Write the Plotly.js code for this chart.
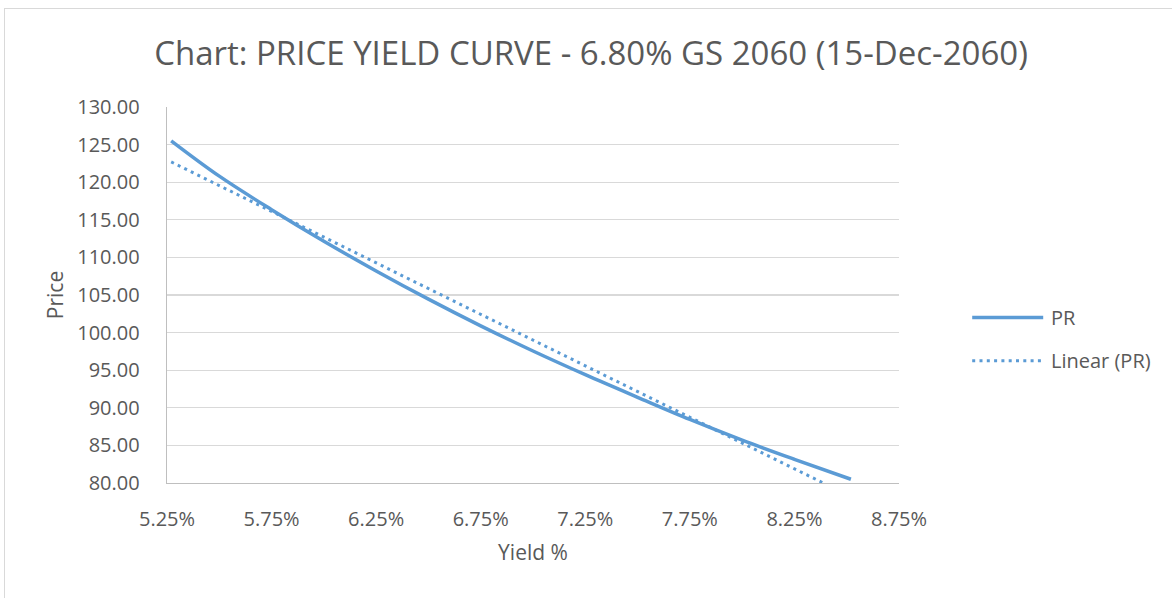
<!DOCTYPE html>
<html>
<head>
<meta charset="utf-8">
<script src="https://cdn.plot.ly/plotly-3.0.1.min.js"></script>
<style>
  body { margin: 0; background: #fff; }
  #marco { position: absolute; left: 4px; top: 8px; width: 1180px; height: 600px;
           border-left: 1px solid #d9d9d9; border-top: 1px solid #d9d9d9; }
  #grafico { position: absolute; left: 0; top: 0; width: 1172px; height: 598px; }
</style>
</head>
<body>
<div id="marco"></div>
<div id="grafico"></div>
<script>
// yield (%) and price
let rendimientos = [5.27, 5.50, 5.75, 6.00, 6.25, 6.50, 6.75, 7.00, 7.25, 7.50, 7.75, 8.00, 8.25, 8.52];
let precios = [125.5, 120.8, 116.35, 112.15, 108.2, 104.45, 100.9, 97.55, 94.4, 91.4, 88.45, 85.7, 83.15, 80.5];
let nombreSerie = 'PR';
let nombreTendencia = 'Linear (PR)';

let azul = '#5b9bd5';
let gris = '#595959';
let fuente = 'Open Sans, sans-serif';

// linear trendline (least squares), like Excel's "Linear (PR)"
let n = rendimientos.length;
let sx = 0, sy = 0, sxx = 0, sxy = 0;
for (let i = 0; i < n; i++)
{
    sx += rendimientos[i];
    sy += precios[i];
    sxx += rendimientos[i] * rendimientos[i];
    sxy += rendimientos[i] * precios[i];
}
let pendiente = (n * sxy - sx * sy) / (n * sxx - sx * sx);
let corte = (sy - pendiente * sx) / n;
let tendX = [rendimientos[0], rendimientos[n - 1]];
let tendY = tendX.map(v => corte + pendiente * v);

let graf1 =
{
    x: rendimientos,
    y: precios,
    type: 'scatter',
    mode: 'lines',
    name: nombreSerie,
    line: { color: azul, width: 3.5, shape: 'spline' }
}
let graf2 =
{
    x: tendX,
    y: tendY,
    type: 'scatter',
    mode: 'lines',
    name: nombreTendencia,
    line: { color: azul, width: 3, dash: '3px,4.3px' }
}

let layout1 =
{
    width: 1172,
    height: 598,
    paper_bgcolor: 'rgba(0,0,0,0)',
    plot_bgcolor: 'rgba(0,0,0,0)',
    margin: { l: 167, r: 273, t: 107, b: 115 },
    font: { family: fuente, color: gris, size: 20 },
    title: {
        text: 'Chart: PRICE YIELD CURVE - 6.80% GS 2060 (15-Dec-2060)',
        font: { family: fuente, size: 33, color: gris },
        xref: 'container', yref: 'container',
        x: 0.5043, y: 0.911, xanchor: 'center', yanchor: 'middle'
    },
    xaxis: {
        range: [5.25, 8.75],
        dtick: 0.5,
        tick0: 5.25,
        tickformat: '.2f',
        ticksuffix: '%',
        showgrid: false,
        zeroline: false,
        showline: true,
        linecolor: '#bfbfbf',
        linewidth: 1.3,
        ticks: '',
        ticklabelstandoff: 18,
        tickfont: { size: 20, color: gris },
        title: { text: 'Yield %', font: { size: 21, color: gris }, standoff: 14 }
    },
    yaxis: {
        range: [80, 130],
        dtick: 5,
        tickformat: '.2f',
        showgrid: true,
        gridcolor: '#d9d9d9',
        gridwidth: 1.3,
        zeroline: false,
        showline: true,
        linecolor: '#bfbfbf',
        linewidth: 1.3,
        ticks: '',
        ticklabelstandoff: 22,
        tickfont: { size: 20, color: gris },
        title: { text: 'Price', font: { size: 21, color: gris }, standoff: 8 }
    },
    showlegend: false,
    shapes: [
        { type: 'line', xref: 'paper', yref: 'paper', x0: 1.1, x1: 1.197, y0: 0.44, y1: 0.44,
          line: { color: azul, width: 3.5 } },
        { type: 'line', xref: 'paper', yref: 'paper', x0: 1.1, x1: 1.197, y0: 0.325, y1: 0.325,
          line: { color: azul, width: 3, dash: '3px,4.3px' } }
    ],
    annotations: [
        { text: nombreSerie, xref: 'paper', yref: 'paper', x: 1.2045, y: 0.44,
          xanchor: 'left', yanchor: 'middle', showarrow: false, font: { size: 20, color: gris } },
        { text: nombreTendencia, xref: 'paper', yref: 'paper', x: 1.2045, y: 0.325,
          xanchor: 'left', yanchor: 'middle', showarrow: false, font: { size: 20, color: gris } }
    ]
}

let contenedor1 = document.getElementById('grafico');
Plotly.newPlot(contenedor1, [graf1, graf2], layout1, { displayModeBar: false, staticPlot: true });
</script>
</body>
</html>
